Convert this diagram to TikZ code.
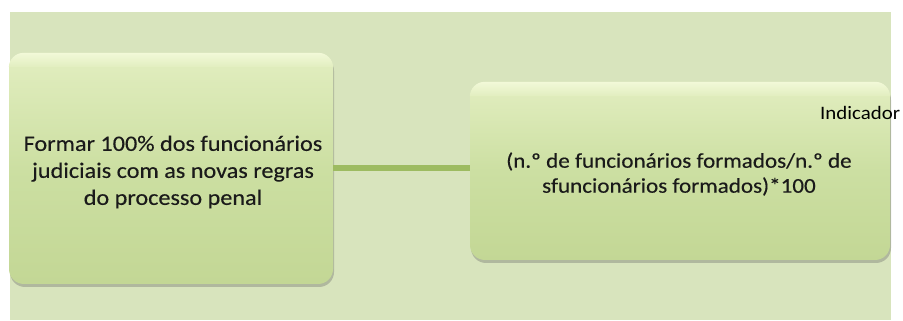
\documentclass[tikz,border=0pt]{standalone}
\usepackage{fontspec}
\setmainfont{Carlito}
\newfontfamily\boxfont[FakeStretch=1.1,FakeBold=0.3]{Carlito}
\newfontfamily\labfont[FakeStretch=1.1]{Carlito}
\usetikzlibrary{shadows}
\definecolor{bgc}{HTML}{D8E4BD}
\definecolor{boxtop}{HTML}{E2EEC0}
\definecolor{boxmid}{HTML}{CCDFA2}
\definecolor{boxbot}{HTML}{C3D795}
\definecolor{hilite}{HTML}{F2F9D8}
\definecolor{linkc}{HTML}{9DBB61}
\definecolor{txt}{HTML}{1A1A1A}
\begin{document}
\begin{tikzpicture}[x=1pt,y=1pt,
  gbox/.style={rounded corners=15pt, top color=boxtop, bottom color=boxbot, middle color=boxmid,
    draw=none, inner sep=0pt,
    drop shadow={shadow xshift=1pt, shadow yshift=-3pt, opacity=0.35, fill=black!60}},
  btext/.style={text=txt, align=center, inner sep=0pt},
  link/.style={draw=linkc, line width=6pt}]
\useasboundingbox (0,0) rectangle (903,321);
\fill[bgc] (10,1) rectangle (891,309);
\node[gbox, minimum width=324pt, minimum height=231pt] (goal) at (171,152.5) {};
\node[gbox, minimum width=420pt, minimum height=178pt] (ind) at (680,150) {};
\foreach \b in {goal,ind}{
  \begin{scope}
    \clip[rounded corners=15pt] (\b.south west) rectangle (\b.north east);
    \shade[top color=hilite, bottom color=boxtop] ([yshift=-14pt]\b.north west) rectangle (\b.north east);
  \end{scope}
}
\node[btext, font=\boxfont\fontsize{22}{27}\selectfont] (goaltext) at (173,149)
  {Formar 100\% dos funcionários\\judiciais com as novas regras\\do processo penal};
\node[btext, font=\boxfont\fontsize{21}{25}\selectfont] (indtext) at (679,147)
  {(n.º de funcionários formados/n.º de\\sfuncionários formados)*100};
\node[anchor=west, inner sep=0pt, font=\labfont\fontsize{19}{22}\selectfont, text=black] (lab) at (820,208) {Indicador};
\draw[link] (goal.east) -- (goal.east -| ind.west);
\end{tikzpicture}
\end{document}
